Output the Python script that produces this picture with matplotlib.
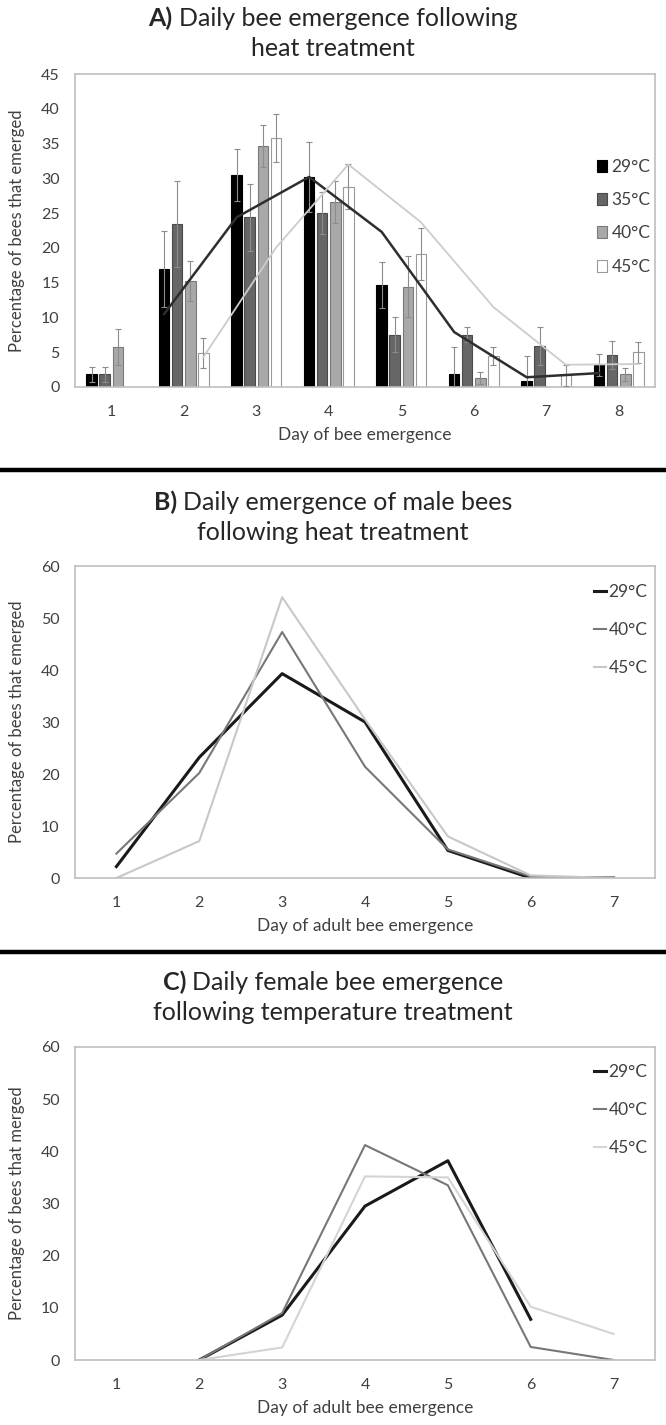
import numpy as np
import matplotlib
matplotlib.use("Agg")
import matplotlib.pyplot as plt
from matplotlib.lines import Line2D

plt.rcParams['font.family'] = ['Lato', 'DejaVu Sans']

# ---- data: panel A (bars +/- error, all bees)
days_a = [1, 2, 3, 4, 5, 6, 7, 8]
temps_a = ["29°C", "35°C", "40°C", "45°C"]
pct_29 = [1.8, 17.0, 30.5, 30.2, 14.7, 1.8, 0.8, 3.2]
pct_35 = [1.8, 23.4, 24.4, 25.0, 7.5, 7.5, 5.9, 4.6]
pct_40 = [5.7, 15.2, 34.6, 26.6, 14.4, 1.3, 0.0, 1.8]
pct_45 = [0.0, 4.9, 35.8, 28.8, 19.1, 4.5, 1.7, 5.0]
err_29 = [1.1, 5.5, 3.7, 5.0, 3.3, 4.0, 3.7, 1.6]
err_35 = [1.1, 6.2, 4.8, 3.0, 2.5, 1.1, 2.7, 2.0]
err_40 = [2.6, 2.9, 3.0, 3.0, 4.4, 0.9, 0.0, 1.0]
err_45 = [0.0, 2.1, 3.5, 3.2, 3.7, 1.3, 1.5, 1.5]
# moving-average trend lines (days 2-8)
trend_days = [2, 3, 4, 5, 6, 7, 8]
trend_29 = [10.5, 24.4, 30.2, 22.3, 7.9, 1.4, 2.0]
trend_45 = [4.3, 20.0, 32.0, 23.7, 11.5, 3.2, 3.3]

# ---- data: panel B (male bees)
days_b = [1, 2, 3, 4, 5, 6, 7]
male_29 = [2.2, 23.2, 39.3, 30.0, 5.3, 0.0, 0.0]
male_40 = [4.7, 20.2, 47.3, 21.4, 5.5, 0.3, 0.0]
male_45 = [0.0, 7.1, 54.0, 30.5, 8.0, 0.5, 0.0]

# ---- data: panel C (female bees)
days_c = [2, 3, 4, 5, 6, 7]
fem_29 = [0.0, 8.6, 29.5, 38.2, 7.8, np.nan]
fem_40 = [0.0, 9.0, 41.2, 33.5, 2.5, 0.0]
fem_45 = [0.0, 2.4, 35.2, 35.0, 10.2, 5.0]
temps_bc = ["29°C", "40°C", "45°C"]

W, H = 666, 1425
fig = plt.figure(figsize=(W / 100, H / 100), dpi=100)

TXT = '#404040'


def rect(left, right, top, bottom):
    return [left / W, 1 - bottom / H, (right - left) / W, (bottom - top) / H]


def style_axes(ax):
    for s in ax.spines.values():
        s.set_color('#bfbfbf')
        s.set_linewidth(1.2)
    ax.tick_params(length=0, labelsize=11.5, colors=TXT, pad=11)
    ax.tick_params(axis='x', pad=13)


def two_part_title(y_px, bold, rest):
    # bold letter + normal text, centred together
    r = fig.canvas.get_renderer()
    t1 = fig.text(0, 0, bold, fontsize=18, weight='bold', color='#262626')
    t2 = fig.text(0, 0, rest, fontsize=18, color='#262626')
    w1 = t1.get_window_extent(r).width
    w2 = t2.get_window_extent(r).width
    x0 = (W - w1 - w2) / 2
    t1.set_position((x0 / W, 1 - y_px / H))
    t2.set_position(((x0 + w1) / W, 1 - y_px / H))
    t1.set_va('center')
    t2.set_va('center')


def centre_title(y_px, txt):
    fig.text(0.5, 1 - y_px / H, txt, fontsize=18, color='#262626',
             ha='center', va='center')


def labels(ax, ylab, xlab):
    ax.set_ylabel(ylab, fontsize=12, color=TXT)
    ax.yaxis.set_label_coords(-0.086, 0.5)
    ax.set_xlabel(xlab, fontsize=12.5, color=TXT, labelpad=6)


# ================= panel A
axA = fig.add_axes(rect(75, 655, 74, 387))
style_axes(axA)
x = np.array(days_a, dtype=float)
offs = [-0.27, -0.09, 0.09, 0.27]
bw = 0.145
vals = [pct_29, pct_35, pct_40, pct_45]
errs = [err_29, err_35, err_40, err_45]
faces = ['#000000', '#666666', '#a8a8a8', '#ffffff']
edges = ['#000000', '#4a4a4a', '#7a7a7a', '#9a9a9a']
for v, e, o, fc, ec, lab in zip(vals, errs, offs, faces, edges, temps_a):
    axA.bar(x + o, v, width=bw, color=fc, edgecolor=ec, linewidth=0.8,
            label=lab, zorder=2)
    e = np.array(e)
    m = e > 0
    axA.errorbar((x + o)[m], np.array(v)[m], yerr=e[m], fmt='none',
                 ecolor='#8c8c8c', elinewidth=0.8, capsize=2, capthick=0.8,
                 zorder=3)
axA.plot(np.array(trend_days) - 0.27, trend_29, color='#2e2e2e', lw=1.8,
         zorder=4)
axA.plot(np.array(trend_days) + 0.27, trend_45, color='#cccccc', lw=1.3,
         zorder=4)
axA.set_xlim(0.5, 8.5)
axA.set_ylim(0, 45)
axA.set_yticks(range(0, 46, 5))
axA.set_xticks(days_a)
labels(axA, "Percentage of bees that emerged", "Day of bee emergence")
axA.legend(loc='upper left', bbox_to_anchor=(588 / W, 1 - 150 / H),
           bbox_transform=fig.transFigure, frameon=False, fontsize=12.5,
           handlelength=0.6, handleheight=0.7, handletextpad=0.25,
           labelspacing=1.0, borderpad=0, labelcolor=TXT)

# ================= panel B
axB = fig.add_axes(rect(75, 655, 566, 878))
style_axes(axB)
axB.plot(days_b, male_29, color='#1a1a1a', lw=2.2, label=temps_bc[0])
axB.plot(days_b, male_40, color='#777777', lw=1.5, label=temps_bc[1])
axB.plot(days_b, male_45, color='#c8c8c8', lw=1.5, label=temps_bc[2])
axB.set_xlim(0.5, 7.5)
axB.set_ylim(0, 60)
axB.set_yticks(range(0, 61, 10))
axB.set_xticks(days_b)
labels(axB, "Percentage of bees that emerged", "Day of adult bee emergence")
axB.legend(loc='upper left', bbox_to_anchor=(585 / W, 1 - 575 / H),
           bbox_transform=fig.transFigure, frameon=False, fontsize=12.5,
           handlelength=0.7, handletextpad=0.15, labelspacing=1.28,
           borderpad=0, labelcolor=TXT)

# ================= panel C
axC = fig.add_axes(rect(75, 655, 1047, 1360))
style_axes(axC)
axC.plot(days_c, fem_29, color='#1a1a1a', lw=2.2, label=temps_bc[0])
axC.plot(days_c, fem_40, color='#777777', lw=1.5, label=temps_bc[1])
axC.plot(days_c, fem_45, color='#d4d4d4', lw=1.5, label=temps_bc[2])
axC.set_xlim(0.5, 7.5)
axC.set_ylim(0, 60)
axC.set_yticks(range(0, 61, 10))
axC.set_xticks(days_b)
labels(axC, "Percentage of bees that merged", "Day of adult bee emergence")
axC.legend(loc='upper left', bbox_to_anchor=(585 / W, 1 - 1055 / H),
           bbox_transform=fig.transFigure, frameon=False, fontsize=12.5,
           handlelength=0.7, handletextpad=0.15, labelspacing=1.28,
           borderpad=0, labelcolor=TXT)

# titles
two_part_title(18, "A) ", "Daily bee emergence following")
centre_title(49, "heat treatment")
two_part_title(502, "B) ", "Daily emergence of male bees")
centre_title(532, "following heat treatment")
two_part_title(982, "C) ", "Daily female bee emergence")
centre_title(1012, "following temperature treatment")

# separators between panels
for yy in (470, 952):
    fig.add_artist(Line2D([0, 1], [1 - yy / H, 1 - yy / H], color='black',
                          lw=3.2, transform=fig.transFigure))

fig.savefig("out.png", dpi=100)
